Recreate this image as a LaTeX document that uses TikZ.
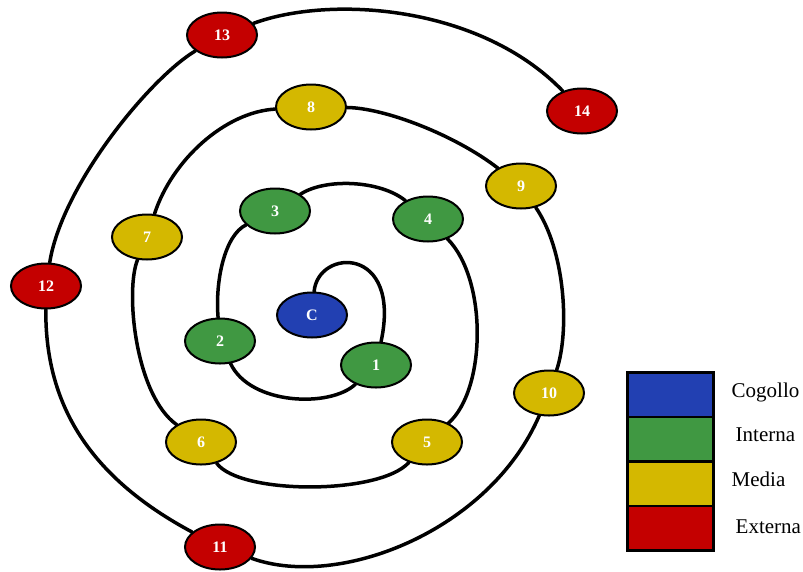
\documentclass[tikz,border=0pt]{standalone}
\usepackage{fontspec}
\setmainfont{Liberation Serif}
\usetikzlibrary{positioning,shapes.geometric}

\definecolor{cogolloBlue}{RGB}{34,64,178}
\definecolor{internaGreen}{RGB}{64,152,66}
\definecolor{mediaYellow}{RGB}{212,184,0}
\definecolor{esternaRed}{RGB}{196,0,0}

\begin{document}
\begin{tikzpicture}[x=1pt, y=1pt,
  zone/.style={ellipse, draw=black, line width=2pt, minimum width=70pt,
    minimum height=45pt, inner sep=0pt, text=white,
    font=\bfseries\fontsize{16}{16}\selectfont},
  cogollo/.style={zone, fill=cogolloBlue},
  interna/.style={zone, fill=internaGreen},
  media/.style={zone, fill=mediaYellow},
  externa/.style={zone, fill=esternaRed},
  spiral/.style={line width=3.5pt, line cap=round},
  legbox/.style={draw=black, line width=2.5pt, minimum width=86pt,
    minimum height=44.5pt, inner sep=0pt, outer sep=0pt},
  legtext/.style={inner sep=2pt, text height=1.6ex, text depth=.3ex,
    font=\fontsize{21}{21}\selectfont}
]
  \useasboundingbox (0,-571) rectangle (803,0);

  % Nodes
  \node[cogollo] (c) at (312,-315) {C};
  \node[interna] (p1) at (376,-365) {1};
  \node[interna] (p2) at (220,-341) {2};
  \node[interna] (p3) at (275,-211) {3};
  \node[interna] (p4) at (428,-219) {4};
  \node[media] (p5) at (427,-442) {5};
  \node[media] (p6) at (201,-442) {6};
  \node[media] (p7) at (147,-237) {7};
  \node[media] (p8) at (311,-107) {8};
  \node[media] (p9) at (521,-186) {9};
  \node[media] (p10) at (549,-393) {10};
  \node[externa] (p11) at (220,-547) {11};
  \node[externa] (p12) at (46,-286) {12};
  \node[externa] (p13) at (222,-35) {13};
  \node[externa] (p14) at (582,-111) {14};

  % Spiral
  \draw[spiral] (c) .. controls (318,-248) and (402,-245) .. (p1);
  \draw[spiral] (p1) .. controls (330,-408) and (250,-405) .. (p2);
  \draw[spiral] (p2) .. controls (215,-280) and (225,-235) .. (p3);
  \draw[spiral] (p3) .. controls (325,-178) and (380,-180) .. (p4);
  \draw[spiral] (p4) .. controls (488,-280) and (486,-390) .. (p5);
  \draw[spiral] (p5) .. controls (380,-495) and (240,-495) .. (p6);
  \draw[spiral] (p6) .. controls (135,-395) and (125,-290) .. (p7);
  \draw[spiral] (p7) .. controls (172,-160) and (225,-112) .. (p8);
  \draw[spiral] (p8) .. controls (385,-108) and (455,-135) .. (p9);
  \draw[spiral] (p9) .. controls (565,-250) and (570,-330) .. (p10);
  \draw[spiral] (p10) .. controls (490,-530) and (340,-590) .. (p11);
  \draw[spiral] (p11) .. controls (95,-480) and (45,-410) .. (p12);
  \draw[spiral] (p12) .. controls (62,-185) and (150,-78) .. (p13);
  \draw[spiral] (p13) .. controls (330,5) and (480,-5) .. (p14);

  % Legend
  \node[legbox, fill=cogolloBlue] (legC) at (670.5,-394.5) {};
  \node[legbox, fill=internaGreen] (legI) at (670.5,-439) {};
  \node[legbox, fill=mediaYellow] (legM) at (670.5,-483.5) {};
  \node[legbox, fill=esternaRed] (legE) at (670.5,-528) {};
  \node[legtext, right=16pt of legC] (txtC) {Cogollo};
  \node[legtext, right=20pt of legI] (txtI) {Interna};
  \node[legtext, right=16pt of legM] (txtM) {Media};
  \node[legtext, right=20pt of legE, yshift=-3pt] (txtE) {Externa};
\end{tikzpicture}
\end{document}
